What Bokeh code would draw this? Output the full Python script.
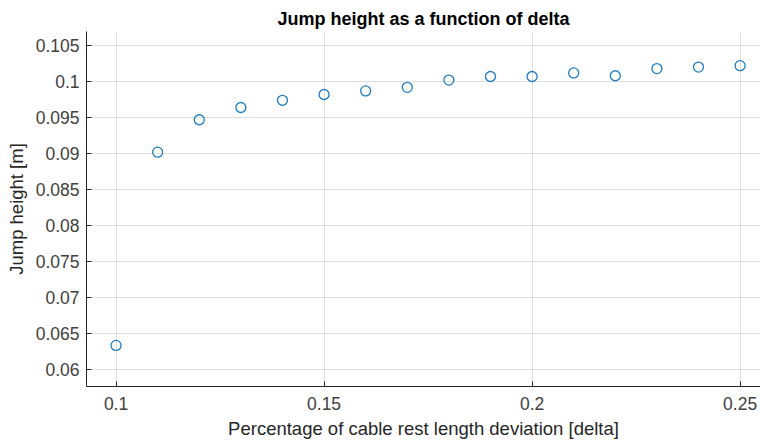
from bokeh.plotting import figure
from bokeh.models import Range1d, FixedTicker, ColumnDataSource
from bokeh.embed import file_html
from bokeh.resources import INLINE

# cable rest length deviation (delta) and resulting jump height [m]
delta = [0.10, 0.11, 0.12, 0.13, 0.14, 0.15, 0.16, 0.17,
         0.18, 0.19, 0.20, 0.21, 0.22, 0.23, 0.24, 0.25]
jump_height = [0.0634, 0.0902, 0.0947, 0.0964, 0.0974, 0.0982, 0.0987, 0.0992,
               0.1002, 0.1007, 0.1007, 0.1012, 0.1008, 0.1018, 0.1020, 0.1022]

x_ticks = [0.10, 0.15, 0.20, 0.25]
y_ticks = [0.060, 0.065, 0.070, 0.075, 0.080, 0.085, 0.090, 0.095, 0.100, 0.105]
x_labels = {0.10: "0.1", 0.15: "0.15", 0.20: "0.2", 0.25: "0.25"}
y_labels = {0.060: "0.06", 0.065: "0.065", 0.070: "0.07", 0.075: "0.075",
            0.080: "0.08", 0.085: "0.085", 0.090: "0.09", 0.095: "0.095",
            0.100: "0.1", 0.105: "0.105"}

FONT = "Liberation Sans"
INK = "#262626"

p = figure(width=760, height=441, output_backend="svg", toolbar_location=None,
           x_range=Range1d(0.0929, 0.2549), y_range=Range1d(0.0577, 0.10694),
           title="Jump height as a function of delta")

p.min_border_left = 86
p.min_border_right = 0
p.min_border_top = 31
p.min_border_bottom = 55
p.outline_line_color = None
p.background_fill_color = "white"
p.border_fill_color = "white"

p.title.align = "center"
p.title.text_font = FONT
p.title.text_font_size = "18px"
p.title.text_font_style = "bold"
p.title.text_color = "#000000"
p.title.standoff = 6

src = ColumnDataSource(dict(x=delta, y=jump_height))
p.scatter("x", "y", source=src, marker="circle", size=10,
          fill_color=None, line_color="#1f7cc4", line_width=1.3)

p.xaxis.ticker = FixedTicker(ticks=x_ticks)
p.yaxis.ticker = FixedTicker(ticks=y_ticks)
p.xaxis.major_label_overrides = x_labels
p.yaxis.major_label_overrides = y_labels

for ax in (p.xaxis[0], p.yaxis[0]):
    ax.axis_line_color = INK
    ax.axis_line_width = 1
    ax.major_tick_line_color = INK
    ax.major_tick_in = 5
    ax.major_tick_out = 0
    ax.minor_tick_line_color = None
    ax.major_label_text_font = FONT
    ax.major_label_text_font_size = "17.5px"
    ax.major_label_text_color = "#404040"
    ax.axis_label_text_font = FONT
    ax.axis_label_text_font_size = "18.5px"
    ax.axis_label_text_font_style = "normal"
    ax.axis_label_text_color = "#262626"

p.xaxis.axis_label = "Percentage of cable rest length deviation [delta]"
p.yaxis.axis_label = "Jump height [m]"
p.xaxis.major_label_standoff = 10
p.yaxis.major_label_standoff = 7
p.xaxis.axis_label_standoff = 5
p.yaxis.axis_label_standoff = 6

p.xgrid.grid_line_color = "#dedede"
p.ygrid.grid_line_color = "#dedede"
p.xgrid.grid_line_width = 1
p.ygrid.grid_line_width = 1

open("out.html", "w").write(file_html(p, INLINE))
